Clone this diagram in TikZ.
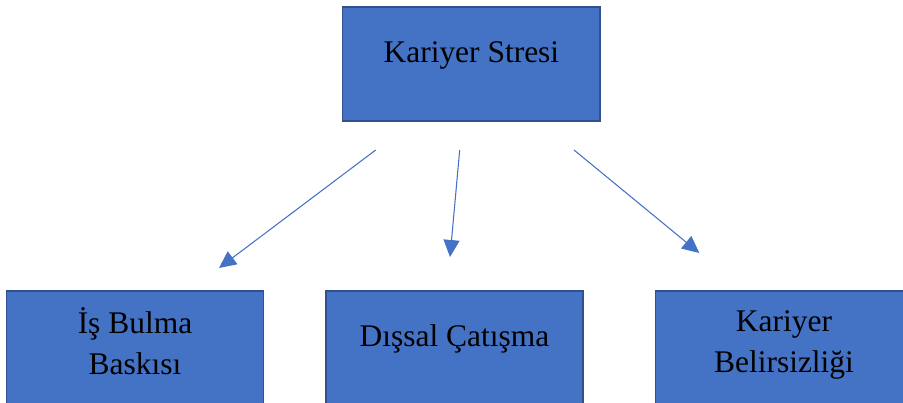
\documentclass[tikz,border=0pt]{standalone}
\usepackage{fontspec}
\setmainfont{Liberation Serif}
\usetikzlibrary{arrows.meta}

\definecolor{boxblue}{RGB}{68,114,196}
\definecolor{boxedge}{RGB}{47,82,143}

\begin{document}
\begin{tikzpicture}[x=0.75pt,y=-0.75pt,
  kutu/.style={rectangle,draw=boxedge,fill=boxblue,line width=1.1pt,
    minimum width=193pt,minimum height=85.3pt,inner sep=0pt},
  yazi/.style={anchor=base,align=center,inner sep=0pt,
    font=\fontsize{23.6}{30.75}\selectfont},
  ok/.style={draw=boxblue,line width=0.8pt,-{Triangle[length=12.75pt,width=12pt]}}]
  \useasboundingbox (0,0) rectangle (903,403);

  \node[kutu] (stres) at (471.4,63.9) {};
  \node[kutu] (is)    at (135,348)    {};
  \node[kutu] (dis)   at (454.5,348)  {};
  \node[kutu] (bel)   at (784,348)    {};

  \node[yazi] (tstres) at (471.4,63) {Kariyer Stresi};
  \node[yazi] (tis)    at (135,374)  {İş Bulma\\Baskısı};
  \node[yazi] (tdis)   at (454.5,346.7) {Dışsal Çatışma};
  \node[yazi] (tbel)   at (784,372)  {Kariyer\\Belirsizliği};

  \coordinate (a1) at (375.7,150);
  \coordinate (b1) at (219,268);
  \coordinate (a2) at (459.7,150);
  \coordinate (b2) at (450,257);
  \coordinate (a3) at (574,150);
  \coordinate (b3) at (699.3,253);

  \draw[ok] (a1) -- (b1);
  \draw[ok] (a2) -- (b2);
  \draw[ok] (a3) -- (b3);
\end{tikzpicture}
\end{document}
